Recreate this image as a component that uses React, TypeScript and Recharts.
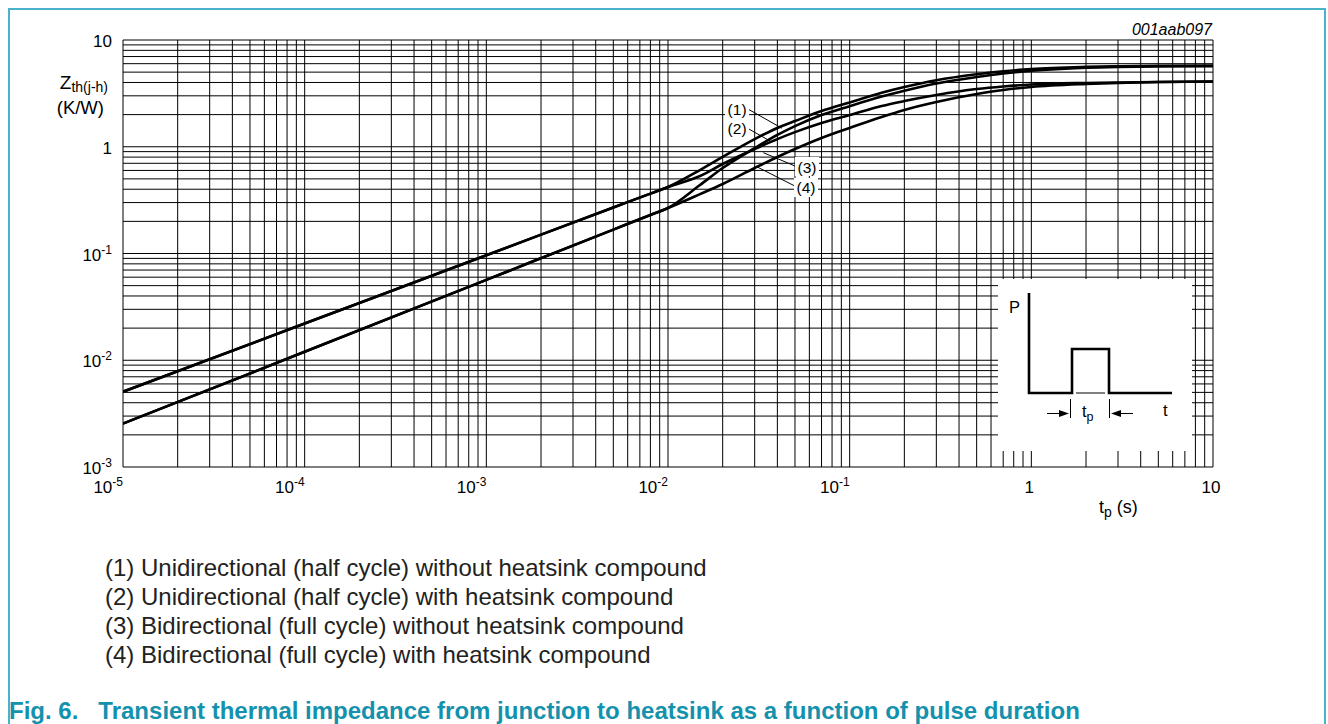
import { LineChart, Line, XAxis, YAxis, CartesianGrid, ReferenceLine, ReferenceDot } from "recharts";

// pulse duration tp (s) and Zth(j-h) (K/W)
const pulseTimes = [1e-5, 1e-4, 1e-3, 0.005, 0.008, 1e-2, 0.015, 0.02, 0.03, 0.04, 0.05, 0.07, 0.1, 0.15, 0.2, 0.3, 0.5, 0.7, 1, 2, 3, 5, 10];
const uniNoCompound = [0.00507, 0.0221, 0.0962, 0.27, 0.364, 0.42, 0.605, 0.802, 1.18, 1.5, 1.74, 2.16, 2.6, 3.2, 3.62, 4.2, 4.78, 5.1, 5.35, 5.6, 5.68, 5.74, 5.76];
const uniCompound = [0.00507, 0.0221, 0.0962, 0.27, 0.364, 0.42, 0.532, 0.689, 0.953, 1.18, 1.37, 1.67, 1.98, 2.41, 2.68, 3.05, 3.47, 3.67, 3.83, 3.96, 4.0, 4.04, 4.08];
const biNoCompound = [0.00255, 0.012, 0.0566, 0.1675, 0.2297, 0.267, 0.438, 0.632, 0.972, 1.29, 1.56, 1.98, 2.4, 2.95, 3.35, 3.92, 4.5, 4.85, 5.15, 5.5, 5.6, 5.66, 5.68];
const biCompound = [0.00255, 0.012, 0.0566, 0.1675, 0.2297, 0.267, 0.36, 0.448, 0.632, 0.802, 0.953, 1.21, 1.5, 1.9, 2.21, 2.62, 3.12, 3.4, 3.63, 3.87, 3.96, 4.04, 4.08];

const xDecades = [1e-5, 1e-4, 1e-3, 1e-2, 1e-1, 1, 10];
const yDecades = [1e-3, 1e-2, 1e-1, 1, 10];
const minorSteps = [1, 2, 3, 4, 5, 6, 7, 8, 9];

// curve tags: label position and leader line end points (tp, Zth)
const curveTags = [
  { id: "(1)", at: [0.024, 2.21], from: [0.0275, 2.26], to: [0.0424, 1.49] },
  { id: "(2)", at: [0.024, 1.47], from: [0.0272, 1.5], to: [0.0372, 1.11] },
  { id: "(3)", at: [0.0582, 0.646], from: [0.05, 0.66], to: [0.0335, 0.88] },
  { id: "(4)", at: [0.0575, 0.411], from: [0.05, 0.428], to: [0.0308, 0.65] },
];

const legendLines = [
  "(1) Unidirectional (half cycle) without heatsink compound",
  "(2) Unidirectional (half cycle) with heatsink compound",
  "(3) Bidirectional (full cycle) without heatsink compound",
  "(4) Bidirectional (full cycle) with heatsink compound",
];

const rows = pulseTimes.map((t, i) => ({
  t,
  c1: uniNoCompound[i],
  c2: uniCompound[i],
  c3: biNoCompound[i],
  c4: biCompound[i],
}));

const withMinors = (decades: number[]) => {
  const out: number[] = [];
  decades.forEach((d, i) => {
    if (i === decades.length - 1) out.push(d);
    else minorSteps.forEach((m) => out.push(+(d * m).toPrecision(3)));
  });
  return out;
};
const xTicks = withMinors(xDecades);
const yTicks = withMinors(yDecades);

const FONT = "'Liberation Sans', Arial, Helvetica, sans-serif";
const TEAL = "#1491ad";

const isDecade = (v: number) => Math.abs(Math.log10(v) - Math.round(Math.log10(v))) < 1e-6;

function PowerLabel({ x, y, value, anchor }: { x: number; y: number; value: number; anchor: "end" | "middle" }) {
  const e = Math.round(Math.log10(value));
  if (e === 0 || e === 1) {
    return (
      <text x={x} y={y} textAnchor={anchor === "end" ? "end" : "middle"} fontSize={17} fontFamily={FONT} fill="#000">
        {e === 0 ? "1" : "10"}
      </text>
    );
  }
  return (
    <text x={x} y={y} textAnchor="end" fontSize={17} fontFamily={FONT} fill="#000">
      10
      <tspan fontSize={12} dy={-7}>{e}</tspan>
    </text>
  );
}

function XTick(props: any) {
  const { x, y, payload } = props;
  if (!isDecade(payload.value)) return <g />;
  const e = Math.round(Math.log10(payload.value));
  if (e === 0 || e === 1) return <PowerLabel x={x - 2} y={y + 26} value={payload.value} anchor="middle" />;
  return <PowerLabel x={x} y={y + 26} value={payload.value} anchor="end" />;
}

function YTick(props: any) {
  const { x, y, payload } = props;
  if (!isDecade(payload.value)) return <g />;
  return <PowerLabel x={x - 11} y={y + 7} value={payload.value} anchor="end" />;
}

function TagShape(id: string) {
  return (p: any) => (
    <g>
      <rect x={p.cx - 12} y={p.cy - 10} width={24} height={19} fill="#fff" />
      <text x={p.cx} y={p.cy + 5.5} textAnchor="middle" fontSize={15.5} fontFamily={FONT} fill="#000">
        {id}
      </text>
    </g>
  );
}

export default function App() {
  return (
    <div style={{ position: "absolute", left: 0, top: 0, width: 1328, height: 724, background: "#fff", overflow: "hidden", fontFamily: FONT }}>
      <div
        style={{
          position: "absolute",
          left: 8,
          top: 8,
          width: 1314,
          height: 740,
          borderTop: "2px solid #4ab2ca",
          borderLeft: "2px solid #4ab2ca",
          borderRight: "2px solid #4ab2ca",
        }}
      />
      <div style={{ position: "absolute", left: 0, top: 0 }}>
        <LineChart width={1328} height={540} data={rows} margin={{ top: 40, right: 115, bottom: 43, left: 63 }}>
          <CartesianGrid stroke="#000" strokeWidth={1} />
          <XAxis
            dataKey="t"
            type="number"
            scale="log"
            domain={[1e-5, 10]}
            allowDataOverflow
            ticks={xTicks}
            interval={0}
            tick={XTick}
            tickLine={false}
            axisLine={false}
            tickSize={0}
            tickMargin={0}
            height={30}
          />
          <YAxis
            type="number"
            scale="log"
            domain={[1e-3, 10]}
            allowDataOverflow
            ticks={yTicks}
            interval={0}
            tick={YTick}
            tickLine={false}
            axisLine={false}
            tickSize={0}
            tickMargin={0}
            width={60}
          />
          {curveTags.map((c) => (
            <ReferenceLine
              key={"l" + c.id}
              segment={[
                { x: c.from[0], y: c.from[1] },
                { x: c.to[0], y: c.to[1] },
              ]}
              stroke="#000"
              strokeWidth={1}
            />
          ))}
          {curveTags.map((c) => (
            <ReferenceDot key={"d" + c.id} x={c.at[0]} y={c.at[1]} r={0} shape={TagShape(c.id)} />
          ))}
          <Line dataKey="c1" type="monotone" stroke="#000" strokeWidth={2.6} dot={false} isAnimationActive={false} />
          <Line dataKey="c2" type="monotone" stroke="#000" strokeWidth={2.6} dot={false} isAnimationActive={false} />
          <Line dataKey="c3" type="monotone" stroke="#000" strokeWidth={2.6} dot={false} isAnimationActive={false} />
          <Line dataKey="c4" type="monotone" stroke="#000" strokeWidth={2.6} dot={false} isAnimationActive={false} />
        </LineChart>
      </div>
      <svg width={1328} height={724} style={{ position: "absolute", left: 0, top: 0, pointerEvents: "none" }} fontFamily={FONT}>
        {/* axis titles */}
        <text x={108} y={89} textAnchor="end" fontSize={19}>
          Z<tspan fontSize={14} dy={3}>th(j-h)</tspan>
        </text>
        <text x={104} y={114} textAnchor="end" fontSize={18.5}>(K/W)</text>
        <text x={1212} y={35} textAnchor="end" fontSize={16} fontStyle="italic">001aab097</text>
        <text x={1099} y={513} fontSize={18}>
          t<tspan fontSize={14} dy={4}>p</tspan>
          <tspan dy={-4}> (s)</tspan>
        </text>

        {/* pulse inset */}
        <rect x={998} y={279} width={194} height={172} fill="#fff" />
        <text x={1009} y={313} fontSize={16.5}>P</text>
        <path d="M1029 293 V393 H1072 V349 H1109 V393 H1172" fill="none" stroke="#000" strokeWidth={2.6} />
        <line x1={1076} y1={393} x2={1105} y2={393} stroke="#000" strokeWidth={1} />
        <line x1={1070.5} y1={399} x2={1070.5} y2={418} stroke="#000" strokeWidth={1} />
        <line x1={1109.5} y1={399} x2={1109.5} y2={418} stroke="#000" strokeWidth={1} />
        <line x1={1047} y1={413.5} x2={1062} y2={413.5} stroke="#000" strokeWidth={1} />
        <polygon points="1069,413.5 1059,410 1059,417" fill="#000" />
        <line x1={1118} y1={413.5} x2={1133} y2={413.5} stroke="#000" strokeWidth={1} />
        <polygon points="1111,413.5 1121,410 1121,417" fill="#000" />
        <text x={1082} y={417} fontSize={16.5}>
          t<tspan fontSize={12.5} dy={4}>p</tspan>
        </text>
        <text x={1163} y={416} fontSize={16.5}>t</text>

        {/* legend */}
        {legendLines.map((s, i) => (
          <text key={s} x={105} y={576 + i * 29} fontSize={24} fill="#222">
            {s}
          </text>
        ))}

        {/* caption */}
        <text x={9} y={719} fontSize={24} fontWeight="bold" fill={TEAL} xmlSpace="preserve">
          {"Fig. 6.   Transient thermal impedance from junction to heatsink as a function of pulse duration"}
        </text>
      </svg>
    </div>
  );
}
